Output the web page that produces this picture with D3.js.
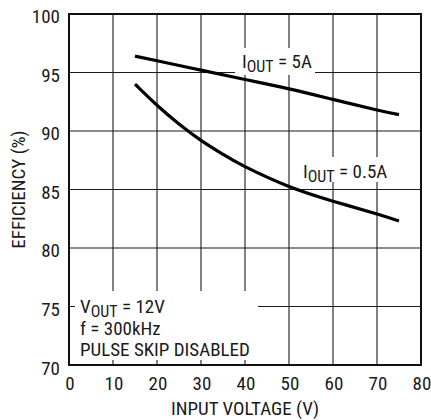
<!DOCTYPE html>
<html><head><meta charset="utf-8">
<script src="https://cdn.jsdelivr.net/npm/d3@7"></script>
<style>
html,body{margin:0;padding:0;background:#fff;}
svg text{font-family:"Liberation Sans Narrow","Roboto Condensed","Arial Narrow",sans-serif;fill:#1a1a1a;}
</style>
</head><body>
<svg id="chart" width="431" height="420"></svg>
<script>
const xTicks = [0,10,20,30,40,50,60,70,80];
const yTicks = [70,75,80,85,90,95,100];
const volt5A = [15,20,30,40,50,60,70,75];
const eff5A  = [96.4,96.0,95.2,94.4,93.6,92.7,91.8,91.4];
const volt05A = [15,20,25,30,35,40,50,60,70,75];
const eff05A  = [94.0,92.2,90.6,89.2,88.0,86.95,85.25,84.0,82.9,82.3];
const xTitle = "INPUT VOLTAGE (V)";
const yTitle = "EFFICIENCY (%)";
const note = [["V","OUT"," = 12V"],["f = 300kHz"],["PULSE SKIP DISABLED"]];

const svg = d3.select("#chart");
const L=69, R=421, T=14, B=365;
const x = d3.scaleLinear().domain([0,80]).range([L,R]);
const y = d3.scaleLinear().domain([70,100]).range([B,T]);
const FS = 19;

// grid
const g = svg.append("g");
g.selectAll(".vx").data(xTicks.slice(1,-1)).enter().append("line")
  .attr("x1",d=>x(d)).attr("x2",d=>x(d)).attr("y1",T).attr("y2",B)
  .attr("stroke","#1a1a1a").attr("stroke-width",1.1);
g.selectAll(".hy").data(yTicks.slice(1,-1)).enter().append("line")
  .attr("x1",L).attr("x2",R).attr("y1",d=>y(d)).attr("y2",d=>y(d))
  .attr("stroke","#1a1a1a").attr("stroke-width",1.1);

// white masks behind labels
function mask(x0,y0,x1,y1){svg.append("rect").attr("x",x0).attr("y",y0).attr("width",x1-x0).attr("height",y1-y0).attr("fill","#fff");}
mask(235,48,315,75);
mask(297,157,392,182);
mask(75,291,258,360);

// frame
svg.append("rect").attr("x",L).attr("y",T).attr("width",R-L).attr("height",B-T)
  .attr("fill","none").attr("stroke","#111").attr("stroke-width",2);

// tick labels
svg.selectAll(".xt").data(xTicks).enter().append("text")
  .attr("x",d=>x(d)+1).attr("y",390).attr("text-anchor","middle").attr("font-size",FS).text(d=>d);
svg.selectAll(".yt").data(yTicks).enter().append("text")
  .attr("x",60).attr("y",d=>y(d)+(d===70?10:9)).attr("text-anchor","end").attr("font-size",FS).text(d=>d);

// titles
svg.append("text").attr("x",(L+R)/2).attr("y",415).attr("text-anchor","middle").attr("font-size",FS).text(xTitle);
svg.append("text").attr("transform",`translate(25,${(T+B)/2}) rotate(-90)`).attr("text-anchor","middle").attr("font-size",FS).text(yTitle);

// curves
const line = d3.line().curve(d3.curveNatural).x(d=>x(d[0])).y(d=>y(d[1]));
svg.append("path").datum(d3.zip(volt5A,eff5A)).attr("d",line)
  .attr("fill","none").attr("stroke","#000").attr("stroke-width",3.2);
svg.append("path").datum(d3.zip(volt05A,eff05A)).attr("d",line)
  .attr("fill","none").attr("stroke","#000").attr("stroke-width",3.2);

// labels with subscript
function subLabel(px,py,parts){
  const t = svg.append("text").attr("x",px).attr("y",py).attr("font-size",FS);
  t.append("tspan").text(parts[0]);
  if(parts.length>1){
    t.append("tspan").attr("font-size",16).attr("dy",3.5).text(parts[1]);
    t.append("tspan").attr("dy",-3.5).text(parts[2]);
  }
  return t;
}
subLabel(242,68,["I","OUT"," = 5A"]);
subLabel(303,178,["I","OUT"," = 0.5A"]);
note.forEach((p,i)=>subLabel(80,313+i*21.5,p));
</script>
</body></html>
